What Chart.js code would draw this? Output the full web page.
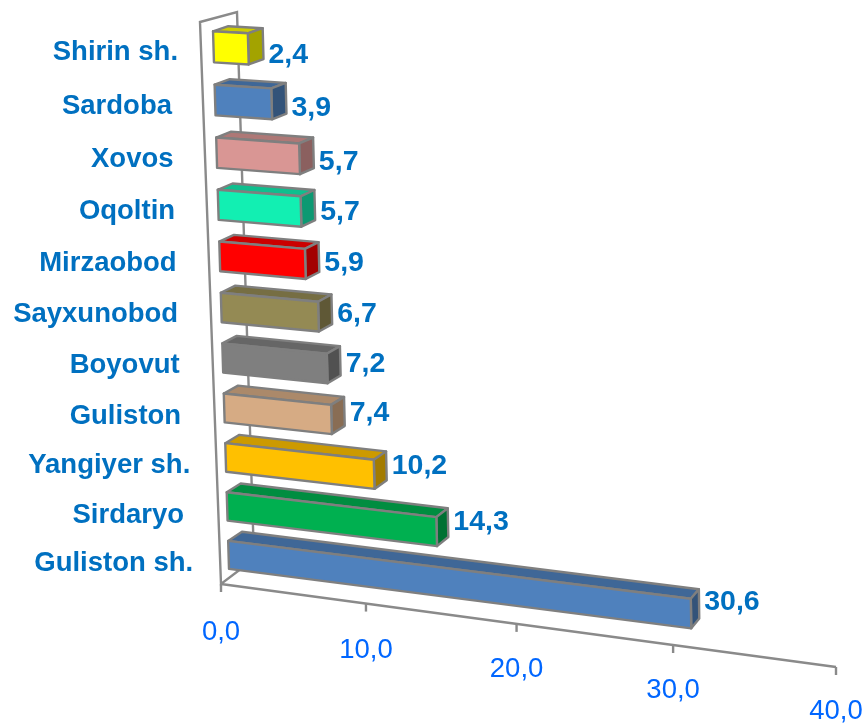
<!DOCTYPE html>
<html>
<head>
<meta charset="utf-8">
<style>html,body{margin:0;padding:0;background:#fff}canvas{display:block}</style>
<script src="https://cdn.jsdelivr.net/npm/chart.js@4/dist/chart.umd.min.js"></script>
</head>
<body>
<canvas id="c" width="865" height="724"></canvas>
<script>
const categories = ['Guliston sh.','Sirdaryo ','Yangiyer sh.','Guliston ','Boyovut ','Sayxunobod ','Mirzaobod ','Oqoltin ','Xovos ','Sardoba ','Shirin sh.'];
const values = [30.6,14.3,10.2,7.4,7.2,6.7,5.9,5.7,5.7,3.9,2.4];
const barColors = ['#4f81bd','#00b050','#ffc000','#d6ab84','#7f7f7f','#948a54','#ff0000','#12efb2','#d99694','#4f81bd','#ffff00'];
const tickValues = [0,10,20,30,40];

const LABEL_BLUE = '#0070c0', TICK_BLUE = '#0066ff', EDGE = '#7f7f7f';
const FONT = '"Liberation Sans", Arial, sans-serif';

// perspective view: unit square -> quad [p0 (u0,t0), p1 (u1,t0), p2 (u1,t1), p3 (u0,t1)]
function homography(p0,p1,p2,p3){
  const sx=p0[0]-p1[0]+p2[0]-p3[0], sy=p0[1]-p1[1]+p2[1]-p3[1];
  const dx1=p1[0]-p2[0], dx2=p3[0]-p2[0], dy1=p1[1]-p2[1], dy2=p3[1]-p2[1];
  const den=dx1*dy2-dy1*dx2;
  const g=(sx*dy2-sy*dx2)/den, h=(dx1*sy-dy1*sx)/den;
  const a=p1[0]-p0[0]+g*p1[0], b=p3[0]-p0[0]+h*p3[0], c=p0[0];
  const d=p1[1]-p0[1]+g*p1[1], e=p3[1]-p0[1]+h*p3[1], f=p0[1];
  return (u,t)=>{const w=g*u+h*t+1;return [(a*u+b*t+c)/w,(d*u+e*t+f)/w];};
}
const frontPlane = homography([229.3,579],[845,659],[838,55],[212.7,20]);
const backPlane  = homography([243,569.5],[851,649],[846,50],[228,15]);
const axisPlane  = homography([221,584],[836,667],[820,60],[200,22]);
const wallPlane  = homography([254,559],[858,642],[842,40],[237,12]);
const WARP = 0.04;
function norm(chart,px,py){
  const a=chart.chartArea;
  const u=(px-a.left)/(a.right-a.left), t=(a.bottom-py)/(a.bottom-a.top);
  return [u, t*(1-WARP)/(1-WARP*t)];
}
function shade(hex,k){
  const n=parseInt(hex.slice(1),16);
  return 'rgb('+[(n>>16)&255,(n>>8)&255,n&255].map(v=>Math.round(v*k)).join(',')+')';
}
function poly(ctx,pts,fill){
  ctx.beginPath();
  pts.forEach((p,i)=>i?ctx.lineTo(p[0],p[1]):ctx.moveTo(p[0],p[1]));
  ctx.closePath();
  ctx.fillStyle=fill;ctx.fill();ctx.stroke();
}
function barCorners(chart,el){
  const {x,y,base,height}=el.getProps(['x','y','base','height'],true);
  const top=y-height/2,bot=y+height/2;
  const n=[norm(chart,base,bot),norm(chart,x,bot),norm(chart,x,top),norm(chart,base,top)];
  return {f:n.map(q=>frontPlane(q[0],q[1])), b:n.map(q=>backPlane(q[0],q[1])), t:n[2][1]};
}

class Box3DElement extends Chart.BarElement {
  draw(ctx){
    const chart=this.$context.chart;
    const {f,b}=barCorners(chart,this);
    const col=this.options.backgroundColor;
    ctx.save();
    ctx.strokeStyle=EDGE;ctx.lineWidth=2.4;ctx.lineJoin='round';
    poly(ctx,[f[3],f[2],b[2],b[3]],shade(col,0.8));
    poly(ctx,[f[1],b[1],b[2],f[2]],shade(col,0.64));
    poly(ctx,f,col);
    ctx.restore();
  }
}
Box3DElement.id='box3d';
Box3DElement.defaults=Chart.BarElement.defaults;
class Box3DController extends Chart.BarController {}
Box3DController.id='box3d';
Box3DController.defaults=Object.assign({},Chart.BarController.defaults,{dataElementType:'box3d'});
Chart.register(Box3DElement,Box3DController);

const view3d={
  id:'view3d',
  beforeDatasetsDraw(chart){
    const ctx=chart.ctx,xs=chart.scales.x;
    ctx.save();
    ctx.strokeStyle='#8a8a8a';ctx.lineWidth=2.4;ctx.lineJoin='miter';
    const aB=axisPlane(0,0),aT=axisPlane(0,1),wB=wallPlane(0,0),wT=wallPlane(0,1);
    const a40=axisPlane(1,0);
    ctx.beginPath();
    ctx.moveTo(wB[0],wB[1]);ctx.lineTo(wT[0],wT[1]);ctx.lineTo(aT[0],aT[1]);ctx.lineTo(aB[0],aB[1]);ctx.lineTo(wB[0],wB[1]);
    ctx.moveTo(aB[0],aB[1]);ctx.lineTo(a40[0],a40[1]);
    ctx.stroke();
    ctx.font='27.5px '+FONT;ctx.fillStyle=TICK_BLUE;ctx.textAlign='center';ctx.textBaseline='middle';
    xs.ticks.forEach(tk=>{
      const px=xs.getPixelForValue(tk.value);
      const u=norm(chart,px,chart.chartArea.bottom)[0];
      const p=axisPlane(u,0);
      ctx.beginPath();ctx.moveTo(p[0],p[1]);ctx.lineTo(p[0],p[1]+8);ctx.stroke();
      ctx.fillText(tk.label,p[0],p[1]+48-4*u);
    });
    ctx.restore();
  },
  afterDatasetsDraw(chart){
    const ctx=chart.ctx,meta=chart.getDatasetMeta(0),ys=chart.scales.y;
    ctx.save();
    ctx.fillStyle=LABEL_BLUE;ctx.textBaseline='middle';
    meta.data.forEach((el,i)=>{
      const {f,b,t}=barCorners(chart,el);
      ctx.font='bold 27.5px '+FONT;ctx.textAlign='right';
      const ly=(f[0][1]+f[3][1])/2+9-3*t;
      ctx.fillText(ys.getLabelForValue(i),f[3][0]-35,ly);
      ctx.font='bold 28.5px '+FONT;ctx.textAlign='left';
      const vy=(b[1][1]+b[2][1])/2+15*t-3;
      ctx.fillText(values[i].toFixed(1).replace('.',','),b[1][0]+5,vy);
    });
    ctx.restore();
  }
};

new Chart(document.getElementById('c'),{
  type:'box3d',
  data:{labels:categories,datasets:[{data:values,backgroundColor:barColors,categoryPercentage:1,barPercentage:0.58}]},
  options:{
    indexAxis:'y',responsive:false,animation:false,
    layout:{padding:0},
    plugins:{legend:{display:false},tooltip:{enabled:false},title:{display:false}},
    scales:{
      x:{type:'linear',display:false,min:0,max:40,
         ticks:{stepSize:10,callback:v=>v.toFixed(1).replace('.',',')}},
      y:{type:'category',display:false,reverse:true}
    }
  },
  plugins:[view3d]
});
</script>
</body>
</html>
